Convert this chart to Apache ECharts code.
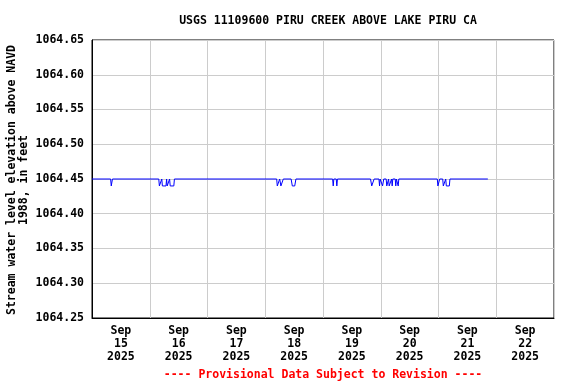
<!DOCTYPE html>
<html>
<head>
<meta charset="utf-8">
<script src="https://cdn.jsdelivr.net/npm/echarts@6/dist/echarts.min.js"></script>
<style>html,body{margin:0;padding:0;background:#fff}#c{width:576px;height:384px}</style>
</head>
<body>
<div id="c"></div>
<script>
// Day categories (labels centered on each day)
const dayLabels = ["Sep\n15\n2025","Sep\n16\n2025","Sep\n17\n2025","Sep\n18\n2025","Sep\n19\n2025","Sep\n20\n2025","Sep\n21\n2025","Sep\n22\n2025"];
// Hours since 2025-09-15 00:00 and gage height (ft)
const hours = [
  0, 7.75, 8.0, 8.25, 8.5,
  27.75, 28.0, 28.75, 29.0, 29.25, 30.75, 31.0, 31.25, 32.0, 32.25, 32.5, 34.0, 34.25,
  76.75, 77.0, 77.75, 78.0, 78.25, 78.5, 79.25, 79.5,
  82.75, 83.25, 84.25, 84.75,
  100.0, 100.25, 100.5, 101.5, 101.75, 102.0,
  115.75, 116.25, 116.75, 117.25,
  119.25, 119.5, 119.75,
  120.5, 120.75, 121.0, 121.25,
  122.25, 122.5, 123.0, 123.25, 123.5, 124.25, 124.5, 124.75, 125.0,
  126.0, 126.25, 126.5, 127.0, 127.25, 127.5,
  143.5, 143.75, 144.25, 144.5,
  145.75, 146.0, 146.75, 147.0, 147.25, 148.5, 148.75,
  164.5
];
const levels = [
  1064.45, 1064.45, 1064.44, 1064.44, 1064.45,
  1064.45, 1064.44, 1064.44, 1064.45, 1064.44, 1064.44, 1064.45, 1064.44, 1064.44, 1064.45, 1064.44, 1064.44, 1064.45,
  1064.45, 1064.44, 1064.44, 1064.45, 1064.45, 1064.44, 1064.44, 1064.45,
  1064.45, 1064.44, 1064.44, 1064.45,
  1064.45, 1064.44, 1064.45, 1064.45, 1064.44, 1064.45,
  1064.45, 1064.44, 1064.44, 1064.45,
  1064.45, 1064.44, 1064.45,
  1064.45, 1064.44, 1064.44, 1064.45,
  1064.45, 1064.44, 1064.44, 1064.45, 1064.44, 1064.44, 1064.45, 1064.44, 1064.45,
  1064.45, 1064.44, 1064.45, 1064.45, 1064.44, 1064.45,
  1064.45, 1064.44, 1064.44, 1064.45,
  1064.45, 1064.44, 1064.44, 1064.45, 1064.44, 1064.44, 1064.45,
  1064.45
];
const yTicksMin = 1064.25, yTicksMax = 1064.65, yStep = 0.05;

const FONT = "'DejaVu Sans Mono', 'Liberation Mono', monospace";
const chart = echarts.init(document.getElementById('c'), null, {renderer: 'canvas'});
chart.setOption({
  animation: false,
  backgroundColor: '#fff',
  title: {
    text: 'USGS 11109600 PIRU CREEK ABOVE LAKE PIRU CA',
    left: 323, top: 10, textAlign: 'center',
    textStyle: {fontFamily: FONT, fontSize: 11.5, fontWeight: 'bold', color: '#000'}
  },
  grid: {left: 92, right: 22, top: 40, bottom: 66, show: true, borderColor: '#000', borderWidth: 1, backgroundColor: 'transparent'},
  xAxis: [
    {
      type: 'category', data: dayLabels, boundaryGap: true, position: 'bottom',
      axisLine: {show: true, lineStyle: {color: '#000', width: 1}},
      axisTick: {show: false},
      splitLine: {show: true, lineStyle: {color: '#cccccc', width: 1}},
      axisLabel: {color: '#000', fontFamily: FONT, fontSize: 11.5, fontWeight: 'bold', lineHeight: 13, margin: 7, interval: 0}
    },
    {
      type: 'value', min: 0, max: 192, show: false, position: 'bottom'
    }
  ],
  yAxis: {
    type: 'value', min: yTicksMin, max: yTicksMax, interval: yStep,
    axisLine: {show: true, lineStyle: {color: '#000'}},
    axisTick: {show: false},
    splitLine: {show: true, lineStyle: {color: '#cccccc', width: 1}},
    axisLabel: {color: '#000', fontFamily: FONT, fontSize: 11.5, fontWeight: 'bold', margin: 8,
      formatter: v => v.toFixed(2)}
  },
  series: [{
    type: 'line', xAxisIndex: 1, yAxisIndex: 0,
    data: hours.map((h, i) => [h, levels[i]]),
    showSymbol: false, symbol: 'none',
    lineStyle: {color: '#0000ff', width: 1},
    z: 5
  }],
  graphic: [
    {
      type: 'text', x: 18, y: 180, rotation: Math.PI / 2,
      style: {
        text: 'Stream water level elevation above NAVD\n1988, in feet',
        fontFamily: FONT, fontSize: 11.5, fontWeight: 'bold', fill: '#000',
        textAlign: 'center', textVerticalAlign: 'middle', lineHeight: 12
      }
    },
    {
      type: 'text', x: 323, y: 375,
      style: {
        text: '---- Provisional Data Subject to Revision ----',
        fontFamily: FONT, fontSize: 11.5, fontWeight: 'bold', fill: '#ff0000',
        textAlign: 'center', textVerticalAlign: 'middle'
      }
    }
  ]
});
</script>
</body>
</html>
